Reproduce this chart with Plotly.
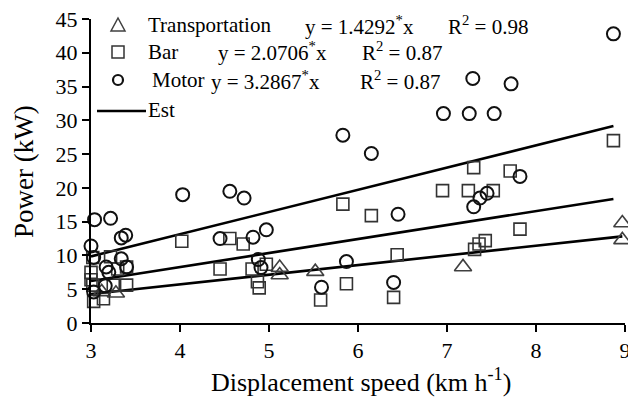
import plotly.graph_objects as go

# ---------------- data ----------------
trans_x = [3.12, 3.28, 5.12, 5.12, 5.52, 7.18, 8.97, 8.97]
trans_y = [4.6, 4.4, 8.2, 7.1, 7.6, 8.3, 14.8, 12.3]

bar_x = [3.02, 3.22, 3.00, 3.00, 3.02, 3.03, 3.14, 3.25, 3.40, 3.30, 3.40,
         4.02, 4.45, 4.56, 4.71, 4.81, 4.97, 4.87, 4.89, 5.58, 5.83, 5.87,
         6.15, 6.44, 6.40, 6.95, 7.24, 7.30, 7.31, 7.36, 7.43, 7.52, 7.71,
         7.82, 8.87]
bar_y = [9.7, 9.8, 7.5, 6.4, 5.6, 3.2, 3.6, 5.6, 5.6, 8.0, 8.3,
         12.1, 8.0, 12.5, 11.7, 8.0, 8.7, 6.1, 5.2, 3.4, 17.6, 5.8,
         15.9, 10.1, 3.8, 19.6, 19.6, 23.0, 10.9, 11.7, 12.2, 19.6, 22.5,
         13.9, 27.0]

motor_x = [3.00, 3.04, 3.22, 3.34, 3.39, 3.03, 3.34, 3.17, 3.20, 3.40, 3.16,
           3.03, 4.03, 4.45, 4.56, 4.72, 4.82, 4.97, 4.88, 4.91, 5.59, 5.83,
           5.87, 6.15, 6.40, 6.45, 6.96, 7.25, 7.30, 7.29, 7.37, 7.45, 7.53,
           7.72, 7.82, 8.87]
motor_y = [11.4, 15.3, 15.5, 12.6, 13.0, 9.7, 9.5, 8.3, 7.5, 8.3, 5.5,
           4.6, 19.0, 12.5, 19.5, 18.5, 12.7, 13.8, 9.4, 8.2, 5.3, 27.8,
           9.1, 25.1, 6.0, 16.1, 31.0, 31.0, 17.2, 36.2, 18.5, 19.2, 31.0,
           35.4, 21.7, 42.8]

# fitted equations shown on the chart (y = a*x)
series_names = ["Transportation", "Bar", "Motor"]
slopes = [1.4292, 2.0706, 3.2867]
slope_labels = ["1.4292", "2.0706", "3.2867"]
r2_labels = ["0.98", "0.87", "0.87"]
fit_x_start = [3.0, 3.0, 3.0]
fit_x_end = [8.97, 8.87, 8.87]

x_ticks = [3, 4, 5, 6, 7, 8, 9]
y_ticks = [0, 5, 10, 15, 20, 25, 30, 35, 40, 45]

# ---------------- layout geometry ----------------
OFF = 8  # default page body margin
W, H = 636 - OFF, 403 - OFF
L, R, T, B = 91 - OFF, 11, 19 - OFF, 80
PW, PH = W - L - R, H - T - B
FONT = "Liberation Serif, Times New Roman, serif"


def pxp(x):
    # screen pixel -> paper coordinate
    return (x - OFF - L) / PW


def pyp(y):
    return (H - B - (y - OFF)) / PH


fig = go.Figure()

for i in range(3):
    xs = [fit_x_start[i], fit_x_end[i]]
    fig.add_trace(go.Scatter(x=xs, y=[slopes[i] * v for v in xs], mode="lines",
                             line=dict(color="black", width=2.6),
                             showlegend=False, hoverinfo="skip", cliponaxis=False))

fig.add_trace(go.Scatter(x=trans_x, y=trans_y, mode="markers", name="Transportation",
                         marker=dict(symbol="triangle-up-open", size=15, color="#404040",
                                     line=dict(width=1.6)),
                         showlegend=False, cliponaxis=False))
fig.add_trace(go.Scatter(x=bar_x, y=bar_y, mode="markers", name="Bar",
                         marker=dict(symbol="square-open", size=12, color="#333333",
                                     line=dict(width=1.6)),
                         showlegend=False, cliponaxis=False))
fig.add_trace(go.Scatter(x=motor_x, y=motor_y, mode="markers", name="Motor",
                         marker=dict(symbol="circle-open", size=13, color="#111111",
                                     line=dict(width=2)),
                         showlegend=False, cliponaxis=False))

# ---------------- legend (manual) ----------------
shapes = []
annotations = []
rows_y = [25, 52, 80]
shapes.append(dict(type="path", xref="paper", yref="paper", xsizemode="pixel", ysizemode="pixel",
                   xanchor=pxp(118), yanchor=pyp(25),
                   path="M -7,-6 L 7,-6 L 0,7 Z", line=dict(color="#404040", width=1.5)))
shapes.append(dict(type="rect", xref="paper", yref="paper", xsizemode="pixel", ysizemode="pixel",
                   xanchor=pxp(118), yanchor=pyp(52), x0=-6, x1=6, y0=-6, y1=6,
                   line=dict(color="#333333", width=1.5)))
shapes.append(dict(type="circle", xref="paper", yref="paper", xsizemode="pixel", ysizemode="pixel",
                   xanchor=pxp(118), yanchor=pyp(80), x0=-5, x1=5, y0=-5, y1=5,
                   line=dict(color="#111111", width=2.2)))
shapes.append(dict(type="line", xref="paper", yref="paper",
                   x0=pxp(97), x1=pxp(146), y0=pyp(111), y1=pyp(111),
                   line=dict(color="black", width=2.4)))

name_x = [146, 146, 150]
eq_x = [303, 216, 209]
r2_x = [446, 360, 358]
for i in range(3):
    annotations.append(dict(x=pxp(name_x[i]), y=pyp(rows_y[i]), xref="paper", yref="paper",
                            text=series_names[i], showarrow=False, xanchor="left", yanchor="middle"))
    annotations.append(dict(x=pxp(eq_x[i]), y=pyp(rows_y[i]), xref="paper", yref="paper",
                            text="y = " + slope_labels[i] + "<sup>*</sup>x", showarrow=False,
                            xanchor="left", yanchor="middle"))
    annotations.append(dict(x=pxp(r2_x[i]), y=pyp(rows_y[i]), xref="paper", yref="paper",
                            text="R<sup>2</sup> = " + r2_labels[i], showarrow=False,
                            xanchor="left", yanchor="middle"))
annotations.append(dict(x=pxp(146), y=pyp(110), xref="paper", yref="paper", text="Est",
                        showarrow=False, xanchor="left", yanchor="middle"))

annotations.append(dict(x=pxp(361), y=pyp(380), xref="paper", yref="paper",
                        text="Displacement speed (km h<sup>-1</sup>)", showarrow=False,
                        xanchor="center", yanchor="middle", font=dict(size=26)))
annotations.append(dict(x=pxp(24), y=pyp(172), xref="paper", yref="paper",
                        text="Power (kW)", showarrow=False, textangle=-90,
                        xanchor="center", yanchor="middle", font=dict(size=27)))

fig.update_layout(
    width=W, height=H,
    margin=dict(l=L, r=R, t=T, b=B, pad=0, autoexpand=False),
    paper_bgcolor="white", plot_bgcolor="white",
    font=dict(family=FONT, size=21, color="black"),
    shapes=shapes, annotations=annotations,
    showlegend=False,
    xaxis=dict(range=[3, 9], tickvals=x_ticks, ticktext=[str(v) for v in x_ticks],
               showline=True, linecolor="black", linewidth=2, ticks="outside",
               ticklen=7, tickwidth=2, tickcolor="black", showgrid=False, zeroline=False,
               tickfont=dict(size=22), automargin=False, ticklabeloverflow="allow"),
    yaxis=dict(range=[0, 45], tickvals=y_ticks, ticktext=[str(v) for v in y_ticks],
               showline=True, linecolor="black", linewidth=2, ticks="outside",
               ticklen=7, tickwidth=2, tickcolor="black", showgrid=False, zeroline=False,
               tickfont=dict(size=22), automargin=False, ticklabeloverflow="allow"),
)

fig.write_html("out.html")
